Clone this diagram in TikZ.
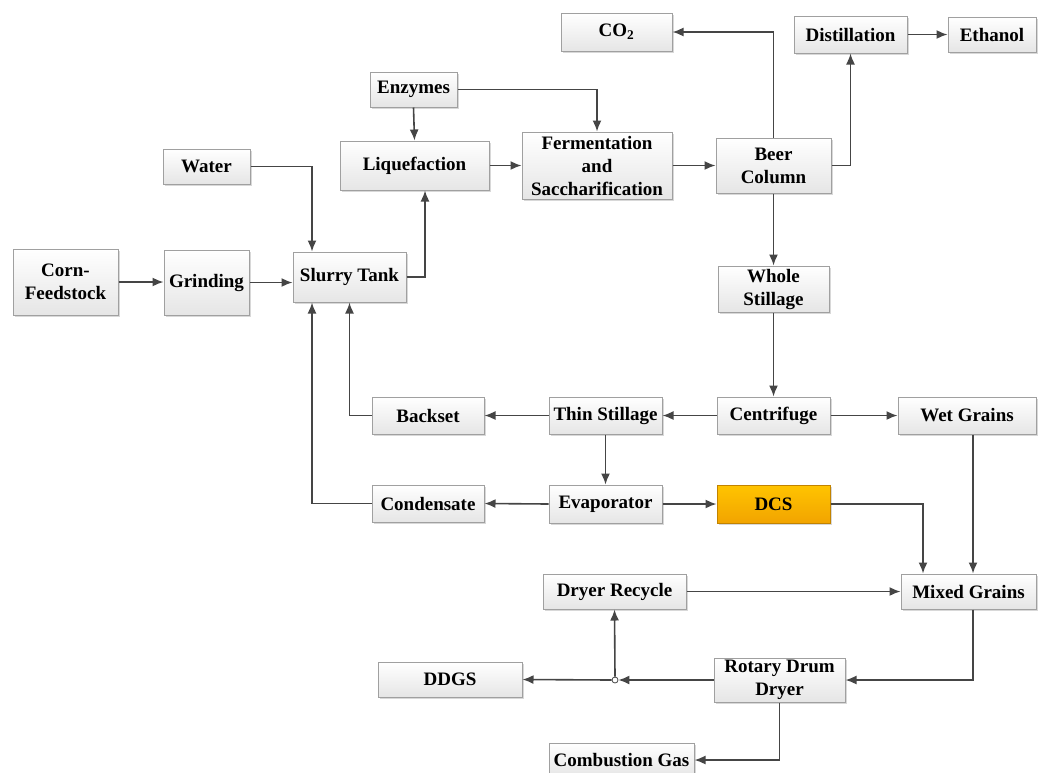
\documentclass[tikz,border=0pt]{standalone}
\usepackage{fontspec}
\setmainfont{Liberation Serif}
\newfontfamily\bxfont{Liberation Serif Bold}
\usetikzlibrary{arrows.meta,shadows,calc}
\definecolor{linec}{HTML}{454545}
\definecolor{boxedge}{HTML}{A0A0A0}
\definecolor{dcstop}{HTML}{FFC400}
\definecolor{dcsbot}{HTML}{F2A400}
\begin{document}
\begin{tikzpicture}[x=1pt,y=-1pt,
  box/.style={draw=boxedge, line width=1pt, top color=white, bottom color=black!10,
    drop shadow={shadow xshift=1.5pt, shadow yshift=-1.5pt, fill=black!25, opacity=0.6},
    align=center, inner sep=2pt,
    font=\fontsize{19}{23}\bxfont},
  dcsbox/.style={box, draw=dcsbot!80!black, top color=dcstop, bottom color=dcsbot},
  conn/.style={draw=linec, line width=1.6pt, -{Latex[length=11pt,width=9pt]}},
  plain/.style={draw=linec, line width=1.6pt}]
\useasboundingbox[fill=white] (0,0) rectangle (1038,772);

\node[box, minimum width=87, minimum height=35] (enz) at (413.5,89.5) {Enzymes};
\node[box, minimum width=87, minimum height=35] (water) at (206.5,166.5) {Water};
\node[box, minimum width=149, minimum height=49] (liq) at (414.5,165.5) {Liquefaction};
\node[box, minimum width=105, minimum height=66] (corn) at (65.5,282) {Corn-\\Feedstock};
\node[box, minimum width=85, minimum height=65] (grind) at (206.5,282.5) {Grinding};
\node[box, minimum width=113, minimum height=50] (slurry) at (349.5,277) {Slurry Tank};
\node[box, minimum width=111, minimum height=38] (co2) at (616.5,32) {CO\textsubscript{2}};
\node[box, minimum width=113, minimum height=37] (dist) at (850.5,34.5) {Distillation};
\node[box, minimum width=88, minimum height=35] (eth) at (992,34.5) {Ethanol};
\node[box, minimum width=150, minimum height=67] (ferm) at (597,165.5) {Fermentation\\and\\Saccharification};
\node[box, minimum width=115, minimum height=55] (beer) at (773.5,165.5) {Beer\\Column};
\node[box, minimum width=111, minimum height=46] (whole) at (773.5,289) {Whole\\Stillage};
\node[box, minimum width=112, minimum height=37] (backset) at (428,415.5) {Backset};
\node[box, minimum width=112, minimum height=37] (cond) at (428,503.5) {Condensate};
\node[box, minimum width=144, minimum height=35] (ddgs) at (450,679.5) {DDGS};
\node[box, minimum width=113, minimum height=37] (thin) at (605.5,415.5) {Thin Stillage};
\node[box, minimum width=113, minimum height=37] (cent) at (773.5,415.5) {Centrifuge};
\node[box, minimum width=138, minimum height=37] (wet) at (967,415.5) {Wet Grains};
\node[box, minimum width=113, minimum height=38] (evap) at (605.5,504) {Evaporator};
\node[dcsbox, minimum width=113, minimum height=38] (dcs) at (773.5,504) {DCS};
\node[box, minimum width=143, minimum height=35] (recyc) at (614.5,591.5) {Dryer Recycle};
\node[box, minimum width=135, minimum height=35] (mixed) at (968.5,591.5) {Mixed Grains};
\node[box, minimum width=131, minimum height=44] (rotary) at (779.5,680) {Rotary Drum\\Dryer};
\node[box, minimum width=145, minimum height=34] (comb) at (621.5,760) {Combustion Gas};

\node[circle, draw=linec, fill=white, line width=0.8pt, inner sep=0pt, minimum size=6pt] (j) at (615,680) {};

\draw[conn] (corn.east) -- (corn.east -| grind.west);
\draw[conn] (grind.east) -- (grind.east -| slurry.west);
\draw[conn] (water.east) -| ([xshift=-37.5pt]slurry.north);
\draw[conn] (slurry.east) -| ([xshift=10.5pt]liq.south);
\draw[conn] (enz.south) -- (liq.north);
\draw[conn] (liq.east) -- (ferm.west);
\draw[conn] (enz.east) -| (ferm.north);
\draw[conn] (ferm.east) -- (beer.west);
\draw[conn] (beer.north) |- (co2.east);
\draw[conn] (beer.east) -| (dist.south);
\draw[conn] (dist.east) -- (eth.west);
\draw[conn] (beer.south) -- (whole.north);
\draw[conn] (whole.south) -- (cent.north);
\draw[conn] (cent.west) -- (thin.east);
\draw[conn] (cent.east) -- (wet.west);
\draw[conn] (thin.west) -- (backset.east);
\draw[conn] (backset.west) -| (slurry.south);
\draw[conn] (thin.south) -- (evap.north);
\draw[conn] (evap.west) -- (cond.east);
\draw[conn] (evap.east) -- (dcs.west);
\draw[conn] (cond.west) -| ([xshift=-37.5pt]slurry.south);
\draw[conn] (dcs.east) -| ([xshift=-45.5pt]mixed.north);
\draw[conn] ([xshift=6pt]wet.south) -- ([xshift=6pt]wet.south |- mixed.north);
\draw[conn] (recyc.east) -- (mixed.west);
\draw[conn] ([xshift=4.5pt]mixed.south) |- (rotary.east);
\draw[conn] (rotary.west) -- (j.east);
\draw[conn] (j.west) -- (ddgs.east);
\draw[conn] (j.north) -- (recyc.south);
\draw[conn] (rotary.south) |- (comb.east);
\end{tikzpicture}
\end{document}
